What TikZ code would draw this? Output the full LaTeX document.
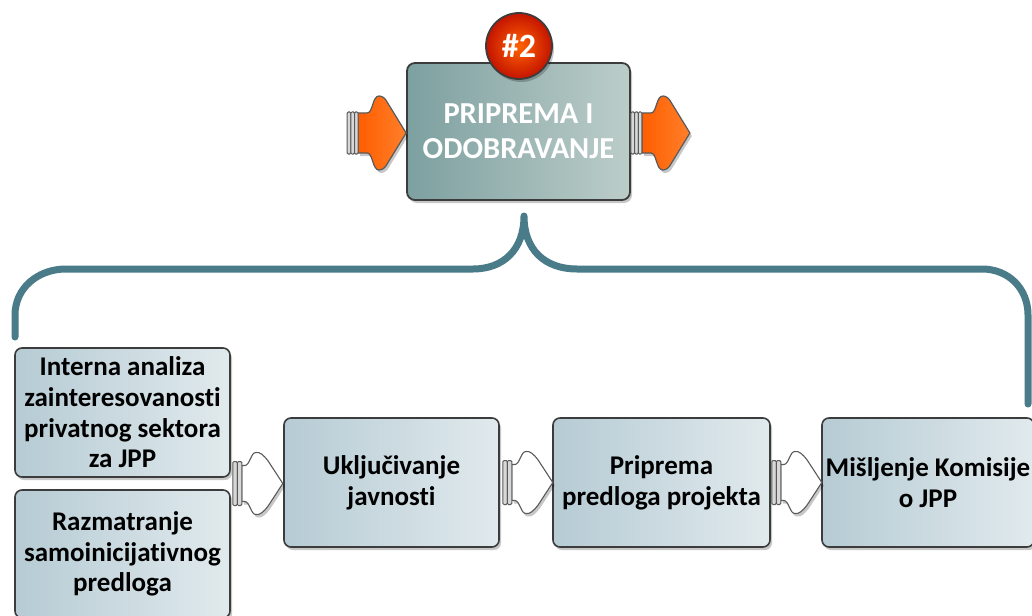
\documentclass[tikz,border=0pt]{standalone}
\usepackage{fontspec}
\setmainfont{Carlito}[Ligatures=NoCommon]
\usetikzlibrary{calc,shadows}
\definecolor{bracecol}{HTML}{4A7B89}
\definecolor{boxline}{HTML}{3C3C3C}
\definecolor{boxL}{HTML}{B6CBD4}
\definecolor{boxR}{HTML}{E1EAED}
\definecolor{topL}{HTML}{7DA0A0}
\definecolor{topM}{HTML}{B5C8C4}
\definecolor{topR}{HTML}{BCCDC9}
\definecolor{redin}{HTML}{FF6200}
\definecolor{redout}{HTML}{C41400}
\definecolor{linkgray}{HTML}{5A5A5A}
\definecolor{barfill}{HTML}{D8D8D8}
\definecolor{orL}{HTML}{FF5E00}
\definecolor{orR}{HTML}{FF7F2A}
\tikzset{
  softshadow/.style={drop shadow={shadow xshift=2pt, shadow yshift=-3pt, fill=black, opacity=0.22}},
  stepbox/.style={draw=boxline, line width=1.6pt, rounded corners=7pt,
    left color=boxL, right color=boxR, softshadow,
    inner sep=0pt, align=center, text=black,
    font=\bfseries\fontsize{27}{30.7}\selectfont},
  topbox/.style={draw=boxline, line width=1.8pt, rounded corners=8pt,
    left color=topL, middle color=topM, right color=topR, softshadow,
    inner sep=0pt, align=center, text=white,
    font=\bfseries\fontsize{30.5}{35}\selectfont},
  badge/.style={circle, draw=boxline, line width=1.8pt, inner sep=0pt,
    inner color=redin, outer color=redout, softshadow, text=white,
    font=\bfseries\fontsize{34}{36}\selectfont},
  bracestyle/.style={draw=bracecol, line width=7pt, line cap=round, line join=round},
  linkarrow/.pic={
    \draw[draw=linkgray, line width=1.1pt, fill=white, softshadow]
      (9,-18) -- (12,-18) .. controls (17,-18) and (18,-31) .. (23,-31)
      .. controls (27,-32) and (31,-28) .. (35,-23) -- (50,0)
      -- (35,23) .. controls (31,28) and (27,32) .. (23,31)
      .. controls (18,31) and (17,18) .. (12,18) -- (9,18) -- cycle;
    \draw[draw=linkgray, fill=barfill, line width=1pt, rounded corners=1.2pt]
      (0,-22) rectangle (4.5,22);
    \draw[draw=linkgray, fill=barfill, line width=1pt, rounded corners=1.2pt]
      (4.5,-22) rectangle (9,22);
  },
  orangearrow/.pic={
    \draw[draw=linkgray, line width=1.2pt, left color=orL, right color=orR, softshadow]
      (11,-20) -- (20,-20) .. controls (26,-20) and (25,-37) .. (32,-37)
      .. controls (35,-37) and (38,-35) .. (40,-31) -- (59,0)
      -- (40,31) .. controls (38,35) and (35,37) .. (32,37)
      .. controls (25,37) and (26,20) .. (20,20) -- (11,20) -- cycle;
    \draw[draw=linkgray, fill=barfill, line width=1pt, rounded corners=1.2pt]
      (0,-21) rectangle (3.7,21);
    \draw[draw=linkgray, fill=barfill, line width=1pt, rounded corners=1.2pt]
      (3.7,-21) rectangle (7.4,21);
    \draw[draw=linkgray, fill=barfill, line width=1pt, rounded corners=1.2pt]
      (7.4,-21) rectangle (11,21);
  }
}
\begin{document}
\begin{tikzpicture}[x=1pt,y=-1pt]
\useasboundingbox (0,0) rectangle (1032,615);
\clip (0,0) rectangle (1032,615);

% brace
\coordinate (braceL) at (15,337);
\coordinate (braceR) at (1028,404);
\coordinate (braceT) at (524,216);
\draw[bracestyle] (braceL) -- (15,315) .. controls (15,288) and (38,269) .. (66,269)
  -- (473,269) .. controls (503,269) and (524,250) .. (braceT)
  .. controls (524,250) and (545,269) .. (577,269)
  -- (982,269) .. controls (1008,269) and (1028,288) .. (1028,315) -- (braceR);

% top process
\node[topbox, minimum width=223pt, minimum height=137pt] (top) at (518.5,131.5)
  {PRIPREMA I\\ODOBRAVANJE};
\node[badge, minimum size=66pt] (num) at (519,46) {\#2};
\pic at ($(top.west)+(-59,1.5)$) {orangearrow};
\pic at ($(top.east)+(0,1.5)$) {orangearrow};

% steps
\node[stepbox, minimum width=215pt, minimum height=129pt] (b1) at (122.5,412.5)
  {Interna analiza\\zainteresovanosti\\privatnog sektora\\za JPP};
\node[stepbox, minimum width=215pt, minimum height=128pt] (b2) at (122.5,554)
  {Razmatranje\\samoinicijativnog\\predloga};
\node[stepbox, minimum width=215pt, minimum height=129pt] (u) at (391.5,482.5)
  {Uključivanje\\javnosti};
\node[stepbox, minimum width=217pt, minimum height=129pt] (p) at (661.5,482.5)
  {Priprema\\predloga projekta};
\node[stepbox, minimum width=212pt, minimum height=129pt] (m) at (928,482.5)
  {Mišljenje Komisije\\o JPP};

\pic at ($(b1.south east)!0.5!(b2.north east)+(2,0)$) {linkarrow};
\pic at ($(u.east)+(3,0)$) {linkarrow};
\pic at ($(p.east)+(1,0)$) {linkarrow};
\end{tikzpicture}
\end{document}
